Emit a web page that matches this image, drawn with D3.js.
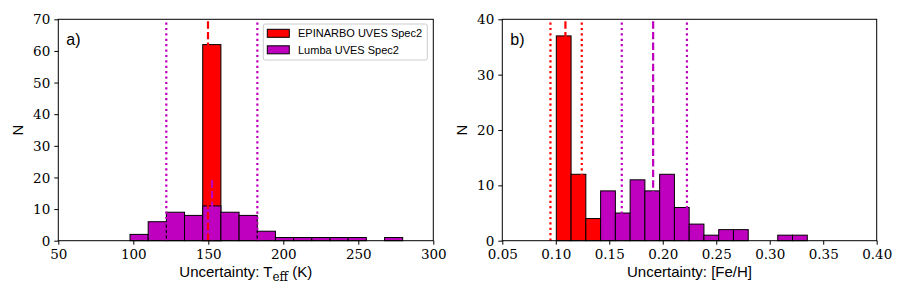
<!DOCTYPE html>
<html>
<head>
<meta charset="utf-8">
<script src="https://cdn.jsdelivr.net/npm/d3@7"></script>
<style>
  body { margin: 0; background: #fff; }
  .lab { font-family: "Liberation Sans", Arial, sans-serif; font-size: 15px; fill: #000; }
</style>
</head>
<body>
<div id="chart"></div>
<script>
// panel a) Teff uncertainty histogram (15 bins from ~97.8 to ~279.6 K)
var teffRange = [97.8, 279.6];
var teffEpinarbo = [0, 0, 0, 0, 62, 0, 0, 0, 0, 0, 0, 0, 0, 0, 0];
var teffLumba = [2, 6, 9, 8, 11, 9, 8, 3, 1, 1, 1, 1, 1, 0, 1];
var teffXTicks = [50, 100, 150, 200, 250, 300];
var teffYTicks = [0, 10, 20, 30, 40, 50, 60, 70];
// vertical lines: [x, style, color, top (null = full height)]
var teffLines = [
  [149.8, "dash", "red", null],
  [152.5, "dash", "m", 20],
  [122.0, "dot", "m", null],
  [182.7, "dot", "m", null]
];

// panel b) [Fe/H] uncertainty histogram (17 bins from ~0.1005 to ~0.335)
var fehRange = [0.1005, 0.3351];
var fehEpinarbo = [37, 12, 4, 0, 0, 0, 0, 0, 0, 0, 0, 0, 0, 0, 0, 0, 0];
var fehLumba = [0, 0, 0, 9, 5, 11, 9, 12, 6, 3, 1, 2, 2, 0, 0, 1, 1];
var fehXTicks = [0.05, 0.10, 0.15, 0.20, 0.25, 0.30, 0.35, 0.40];
var fehYTicks = [0, 10, 20, 30, 40];
var fehLines = [
  [0.0950, "dot", "red", null],
  [0.1090, "dash", "red", null],
  [0.1243, "dot", "red", null],
  [0.1617, "dot", "m", null],
  [0.1910, "dash", "m", null],
  [0.2226, "dot", "m", null]
];

var legendNames = ["EPINARBO UVES Spec2", "Lumba UVES Spec2"];
var colors = { red: "#ff0000", m: "#bf00bf" };
var serif = "'DejaVu Serif', 'Liberation Serif', serif";

var svg = d3.select("#chart").append("svg")
  .attr("width", 900).attr("height", 300);

function panel(opt) {
  var x = d3.scaleLinear().domain(opt.xdom).range([opt.left, opt.right]);
  var y = d3.scaleLinear().domain(opt.ydom).range([240.7, 19.3]);
  var g = svg.append("g");

  var n = opt.red.length;
  var w = (opt.range[1] - opt.range[0]) / n;
  function bars(vals, col) {
    g.append("g").selectAll("rect")
      .data(vals.map(function (v, i) { return { v: v, x0: opt.range[0] + i * w }; })
        .filter(function (d) { return d.v > 0; }))
      .enter().append("rect")
      .attr("x", function (d) { return x(d.x0); })
      .attr("width", function (d) { return x(d.x0 + w) - x(d.x0); })
      .attr("y", function (d) { return y(d.v); })
      .attr("height", function (d) { return y(0) - y(d.v); })
      .attr("fill", col)
      .attr("stroke", "#000")
      .attr("stroke-width", 1);
  }
  bars(opt.red, colors.red);
  bars(opt.purple, colors.m);

  // mean / std lines
  g.append("g").selectAll("line")
    .data(opt.lines).enter().append("line")
    .attr("x1", function (d) { return x(d[0]); })
    .attr("x2", function (d) { return x(d[0]); })
    .attr("y1", y(0))
    .attr("y2", function (d) { return d[3] == null ? 19.3 : y(d[3]); })
    .attr("stroke", function (d) { return colors[d[2]]; })
    .attr("stroke-width", 2.2)
    .attr("stroke-dasharray", function (d) { return d[1] == "dot" ? "2.2,3.2" : "7.4,3.2"; });

  // axes
  var xa = d3.axisBottom(x).tickValues(opt.xticks).tickSize(4).tickPadding(2)
    .tickFormat(opt.xfmt);
  var ya = d3.axisLeft(y).tickValues(opt.yticks).tickSize(4).tickPadding(4)
    .tickFormat(d3.format("d"));
  var gx = g.append("g").attr("transform", "translate(0,240.7)").call(xa);
  var gy = g.append("g").attr("transform", "translate(" + opt.left + ",0)").call(ya);
  [gx, gy].forEach(function (a) {
    a.select(".domain").remove();
    a.attr("font-family", serif).attr("font-size", 13.5);
    a.selectAll(".tick text").attr("fill", "#000");
  });
  gx.selectAll(".tick text").attr("dy", "0.9em");
  gy.selectAll(".tick text").attr("dy", "0.34em");

  g.append("rect")
    .attr("x", opt.left).attr("y", 19.3)
    .attr("width", opt.right - opt.left).attr("height", 240.7 - 19.3)
    .attr("fill", "none").attr("stroke", "#000").attr("stroke-width", 1);

  // labels
  g.append("text").attr("class", "lab")
    .attr("x", opt.left + 8).attr("y", 44.5)
    .style("font-size", "16px")
    .text(opt.tag);
  g.append("text").attr("class", "lab")
    .attr("transform", "translate(" + (opt.left - 35) + ",130) rotate(-90)")
    .attr("text-anchor", "middle")
    .text("N");
  var xl = g.append("text").attr("class", "lab")
    .attr("x", (opt.left + opt.right) / 2).attr("y", 277)
    .attr("text-anchor", "middle");
  opt.xlabel(xl);
  return { x: x, y: y };
}

panel({
  left: 58.3, right: 433.3, xdom: [50, 300], ydom: [0, 70],
  range: teffRange, red: teffEpinarbo, purple: teffLumba,
  lines: teffLines, xticks: teffXTicks, yticks: teffYTicks,
  xfmt: d3.format("d"), tag: "a)",
  xlabel: function (t) {
    t.append("tspan").text("Uncertainty: T");
    t.append("tspan").attr("dy", 4).attr("font-family", serif)
      .attr("font-size", 12).text("eff");
    t.append("tspan").attr("dy", -4).text(" (K)");
  }
});

panel({
  left: 502.3, right: 876.7, xdom: [0.05, 0.40], ydom: [0, 40],
  range: fehRange, red: fehEpinarbo, purple: fehLumba,
  lines: fehLines, xticks: fehXTicks, yticks: fehYTicks,
  xfmt: d3.format(".2f"), tag: "b)",
  xlabel: function (t) { t.text("Uncertainty: [Fe/H]"); }
});

// legend in panel a)
var lg = svg.append("g");
lg.append("rect")
  .attr("x", 263.3).attr("y", 24).attr("width", 164).attr("height", 36)
  .attr("rx", 2).attr("fill", "#fff").attr("fill-opacity", 0.8)
  .attr("stroke", "#ccc").attr("stroke-width", 1);
legendNames.forEach(function (name, i) {
  var yy = 29.3 + i * 16.5;
  lg.append("rect")
    .attr("x", 267.3).attr("y", yy).attr("width", 22).attr("height", 8)
    .attr("fill", i == 0 ? colors.red : colors.m)
    .attr("stroke", "#000").attr("stroke-width", 1);
  lg.append("text").attr("class", "lab")
    .attr("x", 298).attr("y", yy + 8)
    .style("font-size", "11px")
    .text(name);
});
</script>
</body>
</html>
